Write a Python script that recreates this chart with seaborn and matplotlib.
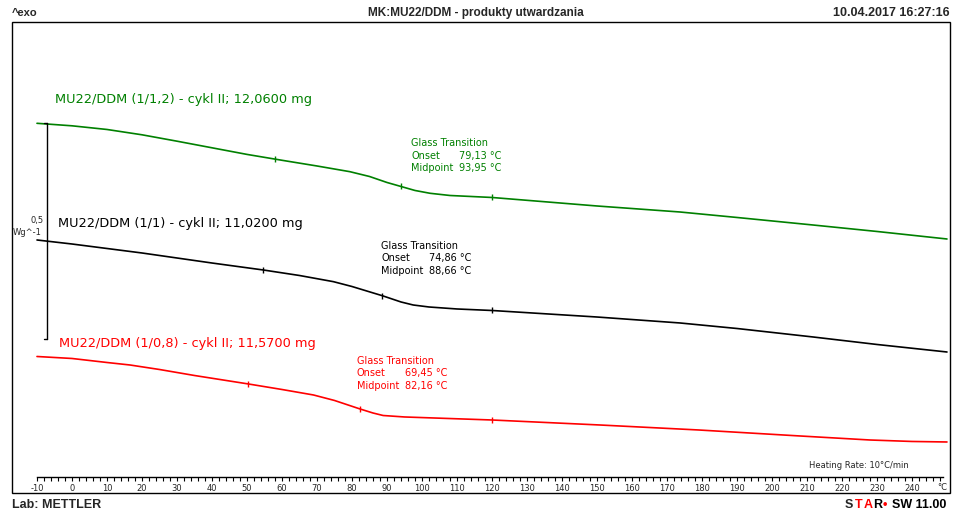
import numpy as np
import pandas as pd
import matplotlib.pyplot as plt
import seaborn as sns
from matplotlib.patches import Rectangle
from matplotlib.ticker import FixedLocator

# DSC curves (temperature in °C, heat flow in W/g as shifted on the plot)
temp_12 = [-10, 0, 10, 20, 30, 40, 50, 60, 70, 79.4, 85, 90, 94.2, 98, 102.3, 108,
           120, 150, 173.7, 190, 211.7, 230, 250]
hf_12 = [0.4090, 0.4032, 0.3947, 0.3824, 0.3676, 0.3523, 0.3370, 0.3234, 0.3102,
         0.2970, 0.2859, 0.2720, 0.2623, 0.2535, 0.2470, 0.2419, 0.2373, 0.2176,
         0.2037, 0.1910, 0.1736, 0.1586, 0.1412]

temp_11 = [-10, 0, 10, 20, 30, 40, 54.7, 65, 74.7, 80, 88.9, 94, 97.5, 102, 110,
           120, 150, 173.7, 190, 211.7, 230, 250]
hf_11 = [0.1389, 0.1296, 0.1192, 0.1088, 0.0972, 0.0856, 0.0694, 0.0567, 0.0424,
         0.0312, 0.0093, -0.0046, -0.0116, -0.0162, -0.0208, -0.0243, -0.0394,
         -0.0532, -0.0660, -0.0856, -0.1030, -0.1204]

temp_108 = [-10, 0, 10, 16.6, 25, 35, 50.4, 60, 69, 75, 82.3, 86, 88.9, 95, 120,
            150.9, 179, 208, 228, 240, 250]
hf_108 = [-0.1308, -0.1354, -0.1447, -0.1505, -0.1609, -0.1748, -0.1944, -0.2072,
          -0.2199, -0.2326, -0.2523, -0.2616, -0.2674, -0.2708, -0.2778, -0.2894,
          -0.3009, -0.3148, -0.3241, -0.3275, -0.3287]

samples = ["MU22/DDM (1/1,2) - cykl II; 12,0600 mg",
           "MU22/DDM (1/1) - cykl II; 11,0200 mg",
           "MU22/DDM (1/0,8) - cykl II; 11,5700 mg"]
colors = ["#008000", "#000000", "#ff0000"]

# glass transition evaluation
onset = ["79,13", "74,86", "69,45"]
midpoint = ["93,95", "88,66", "82,16"]
left_limit = [58, 54.6, 50.3]
mid_temp = [93.95, 88.66, 82.16]
right_limit = [120, 120, 120]

# label positions (temperature, heat flow)
label_pos = [(-4.9, 0.463), (-4.0, 0.176), (-3.7, -0.100)]
gt_pos = [(96.9, 0.363), (88.3, 0.125), (81.4, -0.141)]

df = pd.concat([
    pd.DataFrame({"T": temp_12, "hf": hf_12, "sample": samples[0]}),
    pd.DataFrame({"T": temp_11, "hf": hf_11, "sample": samples[1]}),
    pd.DataFrame({"T": temp_108, "hf": hf_108, "sample": samples[2]}),
])
curves = [(temp_12, hf_12), (temp_11, hf_11), (temp_108, hf_108)]

sns.set_theme(style="white")
plt.rcParams["font.family"] = ["DejaVu Sans"]
plt.rcParams["axes.unicode_minus"] = False

fig = plt.figure(figsize=(9.55, 5.13), dpi=100)
ax = fig.add_axes([12 / 955, 20 / 513, 938 / 955, 471 / 513])

sns.lineplot(data=df, x="T", y="hf", hue="sample", palette=colors,
             estimator=None, sort=False, legend=False, lw=1.2, ax=ax)

ax.set_xlim(-17.14, 250.86)
ax.set_ylim(-0.4468, 0.6435)

# evaluation marks on the curves
for (t, h), c, a, m, b in zip(curves, colors, left_limit, mid_temp, right_limit):
    pts = [a, m, b]
    ax.plot(pts, np.interp(pts, t, h), ls="none", marker="|", ms=5, mew=1, color=c)

# curve labels and glass transition results
for s, c, (lx, ly) in zip(samples, colors, label_pos):
    ax.text(lx, ly, s, color=c, fontsize=9.3, va="center")
for c, (gx, gy), on, mid in zip(colors, gt_pos, onset, midpoint):
    step = 0.0289
    ax.text(gx, gy, "Glass Transition", color=c, fontsize=7, va="center")
    ax.text(gx, gy - step, "Onset", color=c, fontsize=7, va="center")
    ax.text(gx, gy - 2 * step, "Midpoint", color=c, fontsize=7, va="center")
    ax.text(gx + 13.7, gy - step, on + " °C", color=c, fontsize=7, va="center")
    ax.text(gx + 13.7, gy - 2 * step, mid + " °C", color=c, fontsize=7, va="center")

# 0,5 W/g scale bar
top = hf_12[0]
bar_t = -7.14
ax.plot([bar_t, bar_t], [top, top - 0.5], color="black", lw=1)
ax.plot([bar_t - 0.8, bar_t], [top, top], color="black", lw=1)
ax.plot([bar_t - 0.8, bar_t], [top - 0.5, top - 0.5], color="black", lw=1)
ax.text(-8.0, 0.185, "0,5", fontsize=6, ha="right", va="center")
ax.text(-8.6, 0.157, "Wg^-1", fontsize=6, ha="right", va="center")

# temperature axis inside the frame
for side in ["top", "left", "right"]:
    ax.spines[side].set_visible(False)
ax.spines["bottom"].set_position(("axes", 16 / 471))
ax.spines["bottom"].set_bounds(-10, 249)
ax.spines["bottom"].set_color("black")
ax.spines["bottom"].set_linewidth(1)
ax.set_xticks(np.arange(-10, 241, 10))
ax.xaxis.set_minor_locator(FixedLocator(np.arange(-10, 249, 2)))
ax.tick_params(axis="x", which="both", direction="out", length=3, width=0.8,
               color="black", bottom=True, pad=2, labelsize=6)
for lbl in ax.get_xticklabels():
    lbl.set_family(["Liberation Sans Narrow", "DejaVu Sans"])
ax.set_yticks([])
ax.set_xlabel("")
ax.set_ylabel("")
ax.annotate("°C", xy=(248.6, 16 / 471), xycoords=("data", "axes fraction"),
            xytext=(0, -7.5), textcoords="offset points", ha="center", va="center",
            fontsize=6)
ax.text(0.956, 0.0594, "Heating Rate: 10°C/min", transform=ax.transAxes,
        fontsize=6, ha="right", va="center")

ax.add_patch(Rectangle((0, 0), 1, 1, transform=ax.transAxes, fill=False,
                       lw=1, edgecolor="black", clip_on=False))

# header and footer
hdr = dict(fontweight="bold", family="Liberation Sans", va="center")
fig.text(12 / 955, 1 - 13 / 513, "^exo", ha="left", fontsize=8, **hdr)
fig.text(476 / 955, 1 - 13 / 513, "MK:MU22/DDM - produkty utwardzania", ha="center",
         fontsize=8.5, **hdr)
fig.text(950 / 955, 1 - 13 / 513, "10.04.2017 16:27:16", ha="right", fontsize=9, **hdr)
fig.text(12 / 955, 1 - 505 / 513, "Lab: METTLER", ha="left", fontsize=9, **hdr)

t = fig.text(845 / 955, 1 - 505 / 513, "S", ha="left", fontsize=9, **hdr)
for part, c, gap in [("T", "red", 0.8), ("A", "red", 0.8), ("R", "black", 0.8),
                     ("•", "red", 0.2), ("SW 11.00", "black", 3.5)]:
    t = ax.annotate(part, xy=(1, 0.5), xycoords=t, xytext=(gap, 0),
                    textcoords="offset points", ha="left", color=c, fontsize=9,
                    annotation_clip=False, **hdr)

fig.savefig("out.png", dpi=100)
